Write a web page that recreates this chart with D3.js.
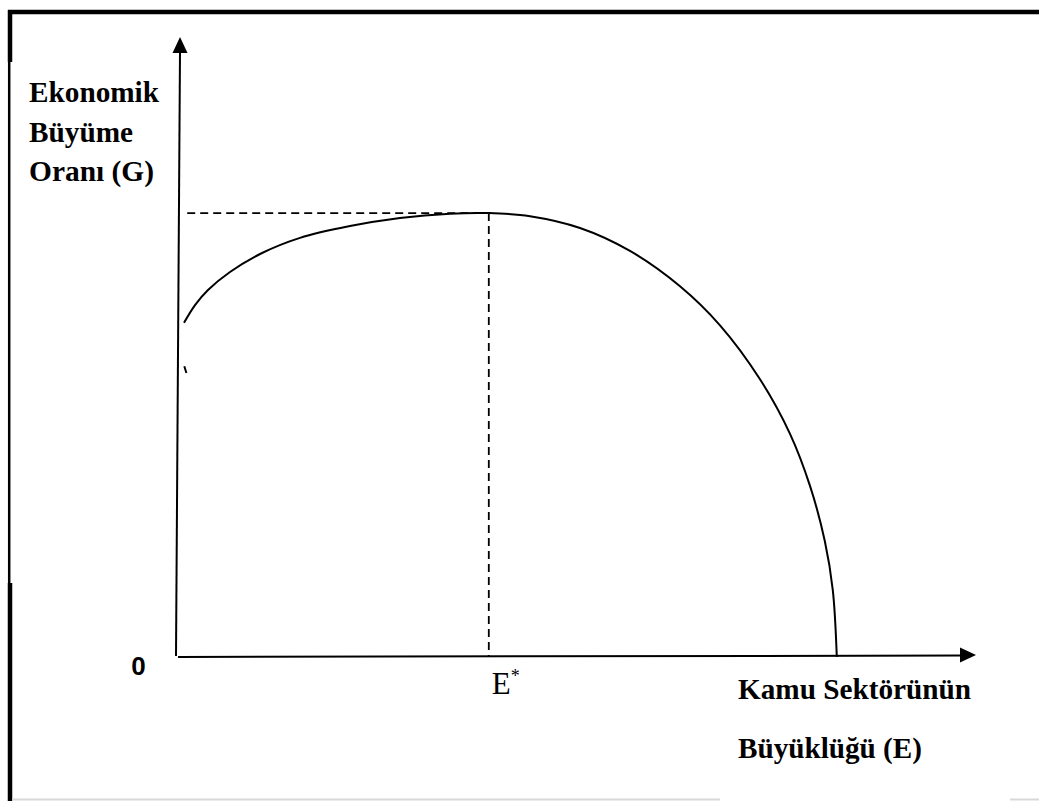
<!DOCTYPE html>
<html>
<head>
<meta charset="utf-8">
<script src="https://d3js.org/d3.v7.min.js"></script>
<style>
    body { margin: 0; background: #fff; }
    .lbl { font-family: "Liberation Serif", "Times New Roman", serif; font-weight: bold; font-size: 29px; fill: #000; }
    .zero { font-family: "Liberation Sans", Arial, sans-serif; font-weight: bold; font-size: 26px; }
    .estar { font-family: "Liberation Serif", "Times New Roman", serif; font-size: 31px; }
</style>
</head>
<body>
<script>
// Curve: public sector size (E) vs growth rate (G), arbitrary units 0..100
var curveE = [1.0, 2.4, 4.0, 6.75, 10.5, 15.5, 21.75, 28.0, 34.25, 39.1,
              44.25, 50.5, 56.75, 63.0, 68.0, 73.0, 76.75, 79.25, 81.1, 82.1, 82.6];
var curveG = [53.9, 56.8, 59.2, 62.1, 65.0, 67.6, 69.5, 70.8, 71.5, 71.6,
              71.1, 69.2, 65.5, 59.8, 53.5, 44.8, 36.0, 27.6, 18.7, 10.8, 0];
// little stray stroke below the start of the curve
var fragE = [1.04, 1.3];
var fragG = [46.9, 45.8];

var eStar = 39.1, gPeak = 71.6;

var yLabels = ["Ekonomik", "Büyüme", "Oranı (G)"];
var yLabelWidths = [130, 104, 125];
var xLabels = ["Kamu Sektörünün", "Büyüklüğü (E)"];
var xLabelWidths = [233, 184];

var W = 1039, H = 801;
var svg = d3.select("body").append("svg")
    .attr("width", W).attr("height", H);

var x = d3.scaleLinear().domain([0, 100]).range([176, 976]);
var y = d3.scaleLinear().domain([0, 100]).range([657, 37]);

// ---- frame around the figure (as in the scanned document) ----
svg.append("line").attr("x1", 8).attr("x2", W).attr("y1", 12).attr("y2", 12)
    .attr("stroke", "#000").attr("stroke-width", 4.5);
svg.append("line").attr("x1", 10).attr("x2", 10).attr("y1", 10).attr("y2", 62)
    .attr("stroke", "#000").attr("stroke-width", 4.5);
svg.append("line").attr("x1", 9.2).attr("x2", 9.2).attr("y1", 62).attr("y2", 583)
    .attr("stroke", "#000").attr("stroke-width", 2.5);
svg.append("line").attr("x1", 10).attr("x2", 10).attr("y1", 583).attr("y2", H)
    .attr("stroke", "#000").attr("stroke-width", 4.5);
svg.append("line").attr("x1", 12).attr("x2", 720).attr("y1", 799.5).attr("y2", 799.5)
    .attr("stroke", "#d8d8d8").attr("stroke-width", 2);
svg.append("line").attr("x1", 1010).attr("x2", W).attr("y1", 799.5).attr("y2", 799.5)
    .attr("stroke", "#d8d8d8").attr("stroke-width", 2);

// ---- axes ----
// vertical axis leans slightly to the right
svg.append("line")
    .attr("x1", x(0)).attr("y1", y(0) - 1)
    .attr("x2", x(0.5)).attr("y2", y(100) + 15)
    .attr("stroke", "#000").attr("stroke-width", 2);
svg.append("path")
    .attr("d", "M" + x(0.5) + "," + y(100) + " L" + (x(0.5) - 7.5) + "," + (y(100) + 16)
        + " L" + (x(0.5) + 7.5) + "," + (y(100) + 16) + "Z")
    .attr("fill", "#000");

svg.append("line")
    .attr("x1", x(0.25)).attr("y1", y(0))
    .attr("x2", x(100) - 14).attr("y2", y(0) - 1.5)
    .attr("stroke", "#000").attr("stroke-width", 2);
svg.append("path")
    .attr("d", "M" + x(100) + "," + (y(0) - 2) + " L" + (x(100) - 16) + "," + (y(0) - 9.5)
        + " L" + (x(100) - 16) + "," + (y(0) + 5.5) + "Z")
    .attr("fill", "#000");

// ---- dashed guides to the peak ----
svg.append("line")
    .attr("x1", x(1.4)).attr("x2", x(eStar))
    .attr("y1", y(gPeak)).attr("y2", y(gPeak))
    .attr("stroke", "#000").attr("stroke-width", 1.8)
    .attr("stroke-dasharray", "8,5");
svg.append("line")
    .attr("x1", x(eStar)).attr("x2", x(eStar))
    .attr("y1", y(gPeak)).attr("y2", y(0))
    .attr("stroke", "#000").attr("stroke-width", 1.8)
    .attr("stroke-dasharray", "8,5");

// ---- the curve ----
var pts = curveE.map(function (e, i) { return [e, curveG[i]]; });
var line = d3.line()
    .x(function (d) { return x(d[0]); })
    .y(function (d) { return y(d[1]); })
    .curve(d3.curveCatmullRom.alpha(0.5));

svg.append("path").datum(pts)
    .attr("d", line)
    .attr("fill", "none").attr("stroke", "#000").attr("stroke-width", 2);

svg.append("path").datum(fragE.map(function (e, i) { return [e, fragG[i]]; }))
    .attr("d", line)
    .attr("fill", "none").attr("stroke", "#000").attr("stroke-width", 2);

// ---- text ----
svg.selectAll("text.ylab").data(yLabels).enter().append("text")
    .attr("class", "lbl ylab")
    .attr("x", 29)
    .attr("y", function (d, i) { return 102 + i * 39.5; })
    .attr("textLength", function (d, i) { return yLabelWidths[i]; })
    .attr("lengthAdjust", "spacingAndGlyphs")
    .text(function (d) { return d; });

svg.selectAll("text.xlab").data(xLabels).enter().append("text")
    .attr("class", "lbl xlab")
    .attr("x", 738)
    .attr("y", function (d, i) { return 699 + i * 59; })
    .attr("textLength", function (d, i) { return xLabelWidths[i]; })
    .attr("lengthAdjust", "spacingAndGlyphs")
    .text(function (d) { return d; });

svg.append("text").attr("class", "zero")
    .attr("x", 138.5).attr("y", 674.5)
    .attr("text-anchor", "middle")
    .text("0");

var et = svg.append("text").attr("class", "estar")
    .attr("x", x(eStar) + 3).attr("y", 694);
et.append("tspan").text("E");
et.append("tspan").attr("font-size", "18px").attr("dy", -12).text("*");
</script>
</body>
</html>
